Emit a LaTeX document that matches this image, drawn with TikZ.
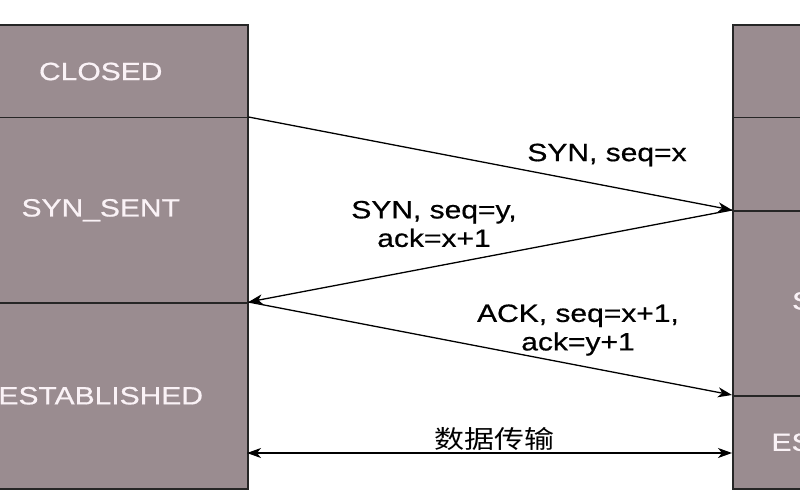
\documentclass[tikz,border=0pt]{standalone}
\usepackage{fontspec}
\setmainfont{Liberation Sans}[FakeStretch=1.2,FakeBold=0.6]
\newfontfamily\cjk{Noto Sans CJK SC}[FakeStretch=1.2]
\usetikzlibrary{arrows.meta}
\definecolor{boxfill}{HTML}{9A8C90}
\definecolor{boxtext}{HTML}{FAF2F6}
\begin{document}
\begin{tikzpicture}[x=1pt,y=-1pt,
  state/.style={draw=black!85,line width=1.5pt,fill=boxfill,text=boxtext,
    minimum width=294pt,inner sep=0pt,anchor=north west,
    font=\fontsize{25}{29}\selectfont},
  arr/.style={line width=1.3pt,-{Stealth[length=14pt,width=10pt,inset=4pt]}},
  arrboth/.style={line width=1.3pt,{Stealth[length=14pt,width=10pt,inset=4pt]}-{Stealth[length=14pt,width=10pt,inset=4pt]}},
  lbl/.style={font=\fontsize{25}{28.5}\selectfont,align=center,inner sep=0pt}]
\useasboundingbox (0,0) rectangle (800,500);
\fill[white] (0,0) rectangle (800,500);
\clip (0,0) rectangle (800,500);
% left column
\node[state,minimum height=92.5pt] (lclosed) at (-47,24.5) {CLOSED};
\node[state,minimum height=185pt] (lsent) at (-47,117) {SYN\_SENT};
\node[state,minimum height=186pt] (lest) at (-47,302) {ESTABLISHED};
% right column
\node[state,minimum height=92.5pt] (rtop) at (732,24.5) {};
\node[state,minimum height=93pt] (rlisten) at (732,117) {};
\node[state,minimum height=185pt] (rrcvd) at (732,210) {\hspace*{-12pt}SYN\_RCVD};
\node[state,minimum height=93pt] (rest) at (732,395) {\hspace*{-12pt}ESTABLISHED};
% arrows
\draw[arr] (lsent.north east) -- (rrcvd.north west);
\draw[arr] (rrcvd.north west) -- (lest.north east);
\draw[arr] (lest.north east) -- (rest.north west);
\coordinate (dl) at (247,453);
\coordinate (dr) at (732,453);
\draw[arrboth] (dl) -- (dr);
% labels
\node[lbl] (l1) at (607,155) {SYN, seq=x};
\node[lbl] (l2) at (434,224) {SYN, seq=y,\\ack=x+1};
\node[lbl] (l3) at (578,330) {ACK, seq=x+1,\\ack=y+1};
\node[lbl,font=\cjk\fontsize{25}{28}\selectfont] (l4) at (494,439) {数据传输};
\end{tikzpicture}
\end{document}
